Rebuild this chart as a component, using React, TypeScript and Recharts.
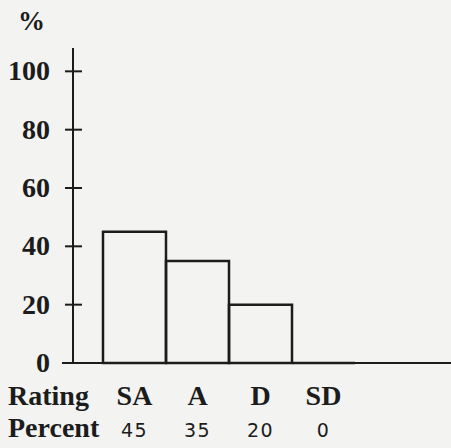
import React from 'react';
import { BarChart, Bar, XAxis, YAxis } from 'recharts';

const ratings = ['SA', 'A', 'D', 'SD'];
const percents = [45, 35, 20, 0];
const yTicks = [0, 20, 40, 60, 80, 100];

const INK = '#1c1c1c';
const SERIF = '"Liberation Serif", "Times New Roman", serif';
const SANS = '"DejaVu Sans", Verdana, sans-serif';

const data = ratings.map((rating, i) => ({ rating, percent: percents[i] }));

// tick that crosses the axis line, like the hand-drawn original
const YTick = (props: any) => {
  const { x, y, payload } = props;
  const left = payload.value === 0 ? 11 : 8;
  return (
    <g>
      <line x1={x - left} x2={x + 9} y1={y} y2={y} stroke={INK} strokeWidth={2} />
      <text x={x - 23} y={y} dy={9} textAnchor="end" fontFamily={SERIF} fontWeight="bold" fontSize={28} fill={INK}>
        {payload.value}
      </text>
    </g>
  );
};

// rating name on the first row, its percent on the second
const XTick = (props: any) => {
  const { x, y, payload, index } = props;
  return (
    <g>
      <text x={x} y={y + 42} textAnchor="middle" fontFamily={SERIF} fontWeight="bold" fontSize={28} fill={INK}>
        {payload.value}
      </text>
      <text x={x} y={y + 74} textAnchor="middle" fontFamily={SANS} fontSize={19} letterSpacing={1.5} fill={INK}>
        {percents[index]}
      </text>
    </g>
  );
};

const RowLabels = (props: any) => {
  const { viewBox } = props;
  const x = viewBox.x - 65;
  return (
    <g>
      <text x={x} y={viewBox.y + 42} fontFamily={SERIF} fontWeight="bold" fontSize={28} fill={INK}>
        Rating
      </text>
      <text x={x} y={viewBox.y + 74} fontFamily={SERIF} fontWeight="bold" fontSize={28} fill={INK}>
        Percent
      </text>
    </g>
  );
};

const PctLabel = (props: any) => {
  const { viewBox } = props;
  return (
    <text x={viewBox.x + 18} y={viewBox.y - 18} fontFamily={SERIF} fontWeight="bold" fontSize={27} fill={INK}>
      %
    </text>
  );
};

const OpenBar = (props: any) => {
  const { x, y, width, height } = props;
  const h = Math.max(height || 0, 0);
  return (
    <path
      d={`M${x},${y + h} L${x},${y} L${x + width},${y} L${x + width},${y + h} Z`}
      fill="none"
      stroke={INK}
      strokeWidth={2.5}
    />
  );
};

export default function App() {
  return (
    <div style={{ position: 'absolute', left: 0, top: 0, width: 451, height: 448, background: '#f3f3f1' }}>
      <BarChart
        width={451}
        height={448}
        data={data}
        margin={{ top: 48, right: 0, bottom: 5, left: 0 }}
        barCategoryGap={0}
      >
        <XAxis
          dataKey="rating"
          height={80}
          padding={{ left: 30, right: 96 }}
          axisLine={{ stroke: INK, strokeWidth: 2 }}
          tickLine={false}
          tickSize={0}
          tickMargin={0}
          interval={0}
          tick={<XTick />}
          label={<RowLabels />}
        />
        <YAxis
          type="number"
          domain={[0, 108]}
          ticks={yTicks}
          interval={0}
          width={73}
          axisLine={{ stroke: INK, strokeWidth: 2 }}
          tickLine={false}
          tickSize={0}
          tickMargin={0}
          tick={<YTick />}
          label={<PctLabel />}
        />
        <Bar dataKey="percent" shape={<OpenBar />} isAnimationActive={false} />
      </BarChart>
    </div>
  );
}
